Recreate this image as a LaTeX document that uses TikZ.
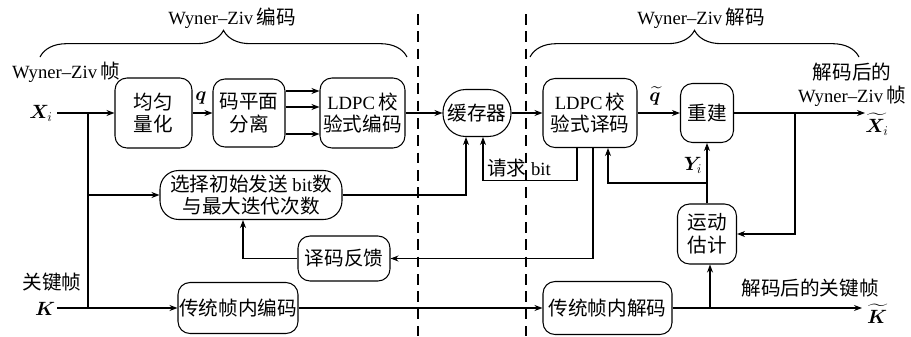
\documentclass[tikz,border=0pt]{standalone}
\usepackage{fontspec}
\setmainfont{Liberation Serif}
\newfontfamily\cjk[Scale=1.05]{Noto Sans CJK SC}
\usepackage{amsmath,bm}
\usetikzlibrary{arrows.meta,decorations.pathreplacing}
\newcommand{\zh}[1]{{\cjk #1}}
\begin{document}
\begin{tikzpicture}[x=0.75pt,y=-0.75pt, font=\fontsize{14}{17}\selectfont,
 box/.style={draw, line width=0.8pt, rounded corners=9pt, align=center, inner sep=0pt},
 conn/.style={line width=0.8pt},
 arr/.style={conn, -{Stealth[length=6pt,width=4.5pt]}},
 sepline/.style={line width=0.8pt, dash pattern=on 8pt off 5pt},
 lbl/.style={inner sep=0pt},
 bracestyle/.style={line width=0.8pt, decorate, decoration={brace, amplitude=20pt}}]
\useasboundingbox (0,0) rectangle (911,336);

% separators
\coordinate (s1t) at (418,14); \coordinate (s1b) at (418,336);
\coordinate (s2t) at (526,14); \coordinate (s2b) at (526,336);
\draw[sepline] (s1t) -- (s1b);
\draw[sepline] (s2t) -- (s2b);

% braces
\coordinate (b1l) at (40,57); \coordinate (b1r) at (407,57);
\coordinate (b2l) at (530,57); \coordinate (b2r) at (859,57);
\draw[bracestyle] (b1l) -- (b1r);
\draw[bracestyle] (b2l) -- (b2r);
\node[lbl] (enct) at (232,18) {Wyner--Ziv\,\zh{编码}};
\node[lbl] (dect) at (701,18) {Wyner--Ziv\,\zh{解码}};

% boxes
\node[box, minimum width=57.75pt, minimum height=52.5pt] (quant) at (153.5,113) {\zh{均匀}\\\zh{量化}};
\node[box, minimum width=54pt, minimum height=51pt] (bp) at (249,113) {\zh{码平面}\\\zh{分离}};
\node[box, minimum width=63.75pt, minimum height=52.5pt] (ldpce) at (362.5,113) {LDPC\,\zh{校}\\\zh{验式编码}};
\node[box, rounded corners=17pt, minimum width=51pt, minimum height=35.25pt] (buf) at (477,113) {\zh{缓存器}};
\node[box, minimum width=70.5pt, minimum height=51.75pt] (ldpcd) at (590,113) {LDPC\,\zh{校}\\\zh{验式译码}};
\node[box, minimum width=39.75pt, minimum height=44.25pt] (rec) at (707,113) {\zh{重建}};
\node[box, minimum width=44.25pt, minimum height=45pt] (me) at (707,234) {\zh{运动}\\\zh{估计}};
\node[box, rounded corners=14pt, minimum width=136.5pt, minimum height=36.75pt] (sel) at (251,195) {\zh{选择初始发送} bit\zh{数}\\\zh{与最大迭代次数}};
\node[box, minimum width=69pt, minimum height=33.75pt] (fb) at (344,258.5) {\zh{译码反馈}};
\node[box, minimum width=90pt, minimum height=38.25pt] (ienc) at (238,308) {\zh{传统帧内编码}};
\node[box, minimum width=96.75pt, minimum height=39.75pt] (idec) at (607.5,308) {\zh{传统帧内解码}};

% labels
\node[lbl] (wzf) at (66,72) {Wyner--Ziv\,\zh{帧}};
\node[lbl] (xil) at (41,113) {$\bm{X}_i$};
\node[lbl] (kfl) at (52,282) {\zh{关键帧}};
\node[lbl] (kl) at (45,309) {$\bm{K}$};
\node[lbl] (ql) at (201,98) {$\bm{q}$};
\node[lbl] (qt) at (655,96) {$\widetilde{\bm{q}}$};
\node[lbl, anchor=west] (req) at (487,168) {\zh{请求} bit};
\node[lbl] (yl) at (693,165) {$\bm{Y}_i$};
\node[lbl, align=center] (dwz) at (852,85) {\zh{解码后的}\\Wyner--Ziv\,\zh{帧}};
\node[lbl] (xo) at (877,124) {$\widetilde{\bm{X}}_i$};
\node[lbl] (dk) at (810,288) {\zh{解码后的关键帧}};
\node[lbl] (ko) at (877,314) {$\widetilde{\bm{K}}$};

% coordinates
\coordinate (xin) at (57,113);
\coordinate (j1) at (88,113);
\coordinate (kin) at (57,308);
\coordinate (j2) at (88,308);
\coordinate (y91) at (0,91);
\coordinate (y107) at (0,107);
\coordinate (y134) at (0,134);
\coordinate (xout) at (865,113);
\coordinate (j3) at (795,113);
\coordinate (j4) at (707,183);
\coordinate (kout) at (862,308);
\coordinate (j5) at (710,308);

% connectors
\draw[arr] (xin) -- (quant.west);
\draw[conn] (j1) -- (j2);
\draw[arr] (j1 |- sel.west) -- (sel.west);
\draw[arr] (quant.east) -- (bp.west);
\draw[arr] (bp.east |- y91) -- (ldpce.west |- y91);
\draw[arr] (bp.east |- y107) -- (ldpce.west |- y107);
\draw[arr] (bp.east |- y134) -- (ldpce.west |- y134);
\draw[arr] (ldpce.east) -- (buf.west);
\draw[arr] (buf.east) -- (ldpcd.west);
\draw[arr] (ldpcd.east) -- (rec.west);
\draw[arr] (rec.east) -- (xout);
\draw[arr] (j3) |- (me.east);
\draw[arr] (me.north) -- (rec.south);
\draw[arr] (j4) -| ([xshift=13.5pt]ldpcd.south);
\draw[arr] ([xshift=-9.75pt]ldpcd.south) -- ++(0,32) -| ([xshift=4.5pt]buf.south);
\draw[arr] ([xshift=2.25pt]ldpcd.south) |- (fb.east);
\draw[arr] (fb.west) -| ([xshift=-6pt]sel.south);
\draw[arr] (sel.east) -| ([xshift=-8.25pt]buf.south);
\draw[arr] (kin) -- (ienc.west);
\draw[arr] (ienc.east) -- (idec.west);
\draw[arr] (idec.east) -- (kout);
\draw[arr] (j5) -- (j5 |- me.south);
\end{tikzpicture}
\end{document}
